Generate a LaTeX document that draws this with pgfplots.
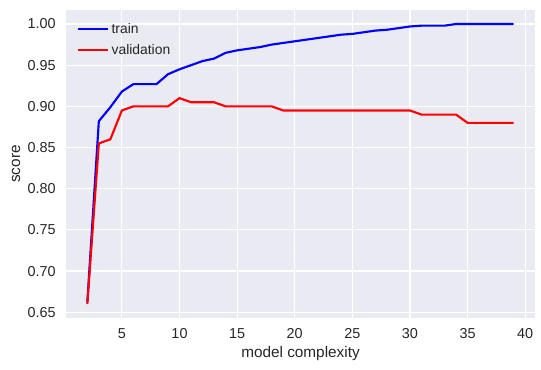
\documentclass[border=0pt]{standalone}
\usepackage{fontspec}
\setmainfont{Liberation Sans}
\usepackage{pgfplots}
\pgfplotsset{compat=1.18}
\definecolor{bg}{HTML}{EAEAF2}
\definecolor{txt}{HTML}{262626}
\begin{document}
\begin{tikzpicture}
\useasboundingbox (-49.5pt,-38.25pt) rectangle (356.25pt,238.5pt);
\begin{axis}[
  at={(0,0)}, anchor=south west, scale only axis,
  width=351.75pt, height=231pt,
  xmin=0.15, xmax=40.85, ymin=0.643, ymax=1.017,
  axis background/.style={fill=bg},
  axis line style={draw=none},
  grid=major, major grid style={white, line width=0.9pt},
  tick style={draw=none},
  xtick={5,10,15,20,25,30,35,40},
  ytick={0.65,0.70,0.75,0.80,0.85,0.90,0.95,1.00},
  /pgf/number format/assume math mode=true,
  yticklabel={\pgfmathprintnumber[fixed,fixed zerofill,precision=2]{\tick}},
  xticklabel style={font=\fontsize{10.8}{12}\selectfont, text=txt, inner sep=0pt, anchor=north, yshift=-8pt},
  yticklabel style={font=\fontsize{10.8}{12}\selectfont, text=txt, inner sep=0pt, anchor=east, xshift=-7.5pt},
  xlabel={model complexity}, ylabel={score},
  xlabel style={font=\fontsize{11.5}{13}\selectfont, text=txt, at={(axis description cs:0.5,-0.116)}, anchor=center},
  ylabel style={font=\fontsize{11.5}{13}\selectfont, text=txt, at={(axis description cs:-0.1066,0.5)}, anchor=center, rotate=0},
  legend style={at={(axis description cs:0.014,0.975)}, anchor=north west, draw=none, fill=none,
    font=\fontsize{10.4}{12}\selectfont, text=txt, row sep=2.6pt, nodes={inner sep=2pt}},
  legend cell align=left,
  legend image code/.code={\draw[#1] (0pt,0pt) -- (22.5pt,0pt);},
]
\addplot[blue, line width=1.6pt] coordinates {
(2,0.662) (3,0.882) (4,0.899) (5,0.918) (6,0.927) (7,0.927) (8,0.927) (9,0.939)
(10,0.945) (11,0.950) (12,0.955) (13,0.958) (14,0.965) (15,0.968) (16,0.970)
(17,0.972) (18,0.975) (19,0.977) (20,0.979) (21,0.981) (22,0.983) (23,0.985)
(24,0.987) (25,0.988) (26,0.990) (27,0.992) (28,0.993) (29,0.995) (30,0.997)
(31,0.998) (32,0.998) (33,0.998) (34,1.000) (35,1.000) (36,1.000) (37,1.000)
(38,1.000) (39,1.000)
};
\addlegendentry{train}
\addplot[red, line width=1.6pt] coordinates {
(2,0.660) (3,0.855) (4,0.860) (5,0.895) (6,0.900) (7,0.900) (8,0.900) (9,0.900)
(10,0.910) (11,0.905) (12,0.905) (13,0.905) (14,0.900) (15,0.900) (16,0.900)
(17,0.900) (18,0.900) (19,0.895) (20,0.895) (21,0.895) (22,0.895) (23,0.895)
(24,0.895) (25,0.895) (26,0.895) (27,0.895) (28,0.895) (29,0.895) (30,0.895)
(31,0.890) (32,0.890) (33,0.890) (34,0.890) (35,0.880) (36,0.880) (37,0.880)
(38,0.880) (39,0.880)
};
\addlegendentry{validation}
\end{axis}
\end{tikzpicture}
\end{document}
